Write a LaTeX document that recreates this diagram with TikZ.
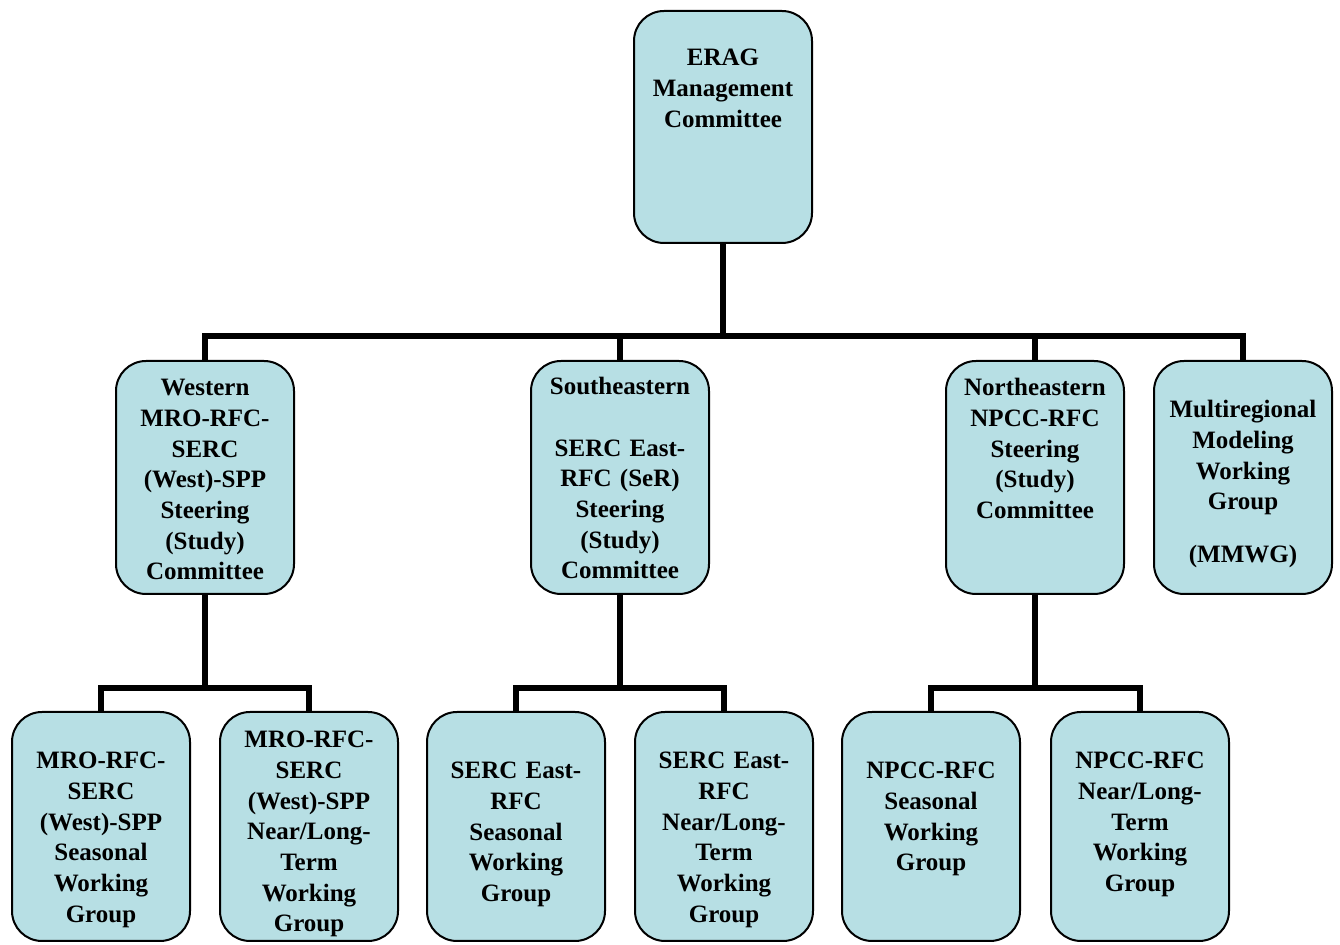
\documentclass[tikz,border=0pt]{standalone}
\usepackage{fontspec}
\setmainfont{Liberation Serif}
\usepackage{tikz}
\usepackage{xcolor}
\definecolor{boxblue}{RGB}{183,223,228}
\tikzset{
	orgbox/.style  = {shape=rectangle, rounded corners=15pt,
		draw, line width=1pt, fill=boxblue, align=center,
		text width=85pt, inner xsep=2pt, inner ysep=0pt, anchor=north},
	mgmt/.style    = {orgbox, text height=#1, text depth=116pt-#1},
	cmte/.style    = {orgbox, text height=#1, text depth=116.5pt-#1},
	wgroup/.style  = {orgbox, text height=#1, text depth=114.5pt-#1},
	link/.style    = {draw, line width=3pt}
}

\begin{document}
\begin{tikzpicture}
[
x                   = 0.5pt,
y                   = -0.5pt,
every node/.style   = {font=\bfseries\fontsize{12.5}{15.33}\selectfont}
]
\useasboundingbox (0,0) rectangle (1340,945);
\node [mgmt=27.5pt] (erag) at (723,10) {ERAG\\Management\\Committee};
% steering committees
\node [cmte=17.5pt] (west) at (205,360)
	{Western\\MRO-RFC-\\SERC\\(West)-SPP\\Steering\\(Study)\\Committee};
\node [cmte=17pt] (southeast) at (620,360)
	{Southeastern\\[15.33pt]SERC East-\\RFC (SeR)\\Steering\\(Study)\\Committee};
\node [cmte=17.5pt] (northeast) at (1035,360)
	{Northeastern\\NPCC-RFC\\Steering\\(Study)\\Committee};
\node [cmte=28.5pt] (mmwg) at (1243,360)
	{Multiregional\\Modeling\\Working\\Group\\[11pt](MMWG)};
% working groups
\node [wgroup=28.5pt] (westseas) at (101,711)
	{MRO-RFC-\\SERC\\(West)-SPP\\Seasonal\\Working\\Group};
\node [wgroup=18pt] (westlong) at (309,711)
	{MRO-RFC-\\SERC\\(West)-SPP\\Near/Long-\\Term\\Working\\Group};
\node [wgroup=33.5pt] (serseas) at (516,711)
	{SERC East-\\RFC\\Seasonal\\Working\\Group};
\node [wgroup=28.5pt] (serlong) at (724,711)
	{SERC East-\\RFC\\Near/Long-\\Term\\Working\\Group};
\node [wgroup=33.5pt] (npccseas) at (931,711)
	{NPCC-RFC\\Seasonal\\Working\\Group};
\node [wgroup=28.5pt] (npcclong) at (1140,711)
	{NPCC-RFC\\Near/Long-\\Term\\Working\\Group};
% connectors
\coordinate (bus) at (723,336);
\coordinate (wbus) at (205,688);
\coordinate (sbus) at (620,688);
\coordinate (nbus) at (1035,688);
\foreach \c in {west,southeast,northeast,mmwg}
	\draw [link] (erag.south) -- (bus) -| (\c.north);
\foreach \c in {westseas,westlong}
	\draw [link] (west.south) -- (wbus) -| (\c.north);
\foreach \c in {serseas,serlong}
	\draw [link] (southeast.south) -- (sbus) -| (\c.north);
\foreach \c in {npccseas,npcclong}
	\draw [link] (northeast.south) -- (nbus) -| (\c.north);
\end{tikzpicture}
\end{document}
